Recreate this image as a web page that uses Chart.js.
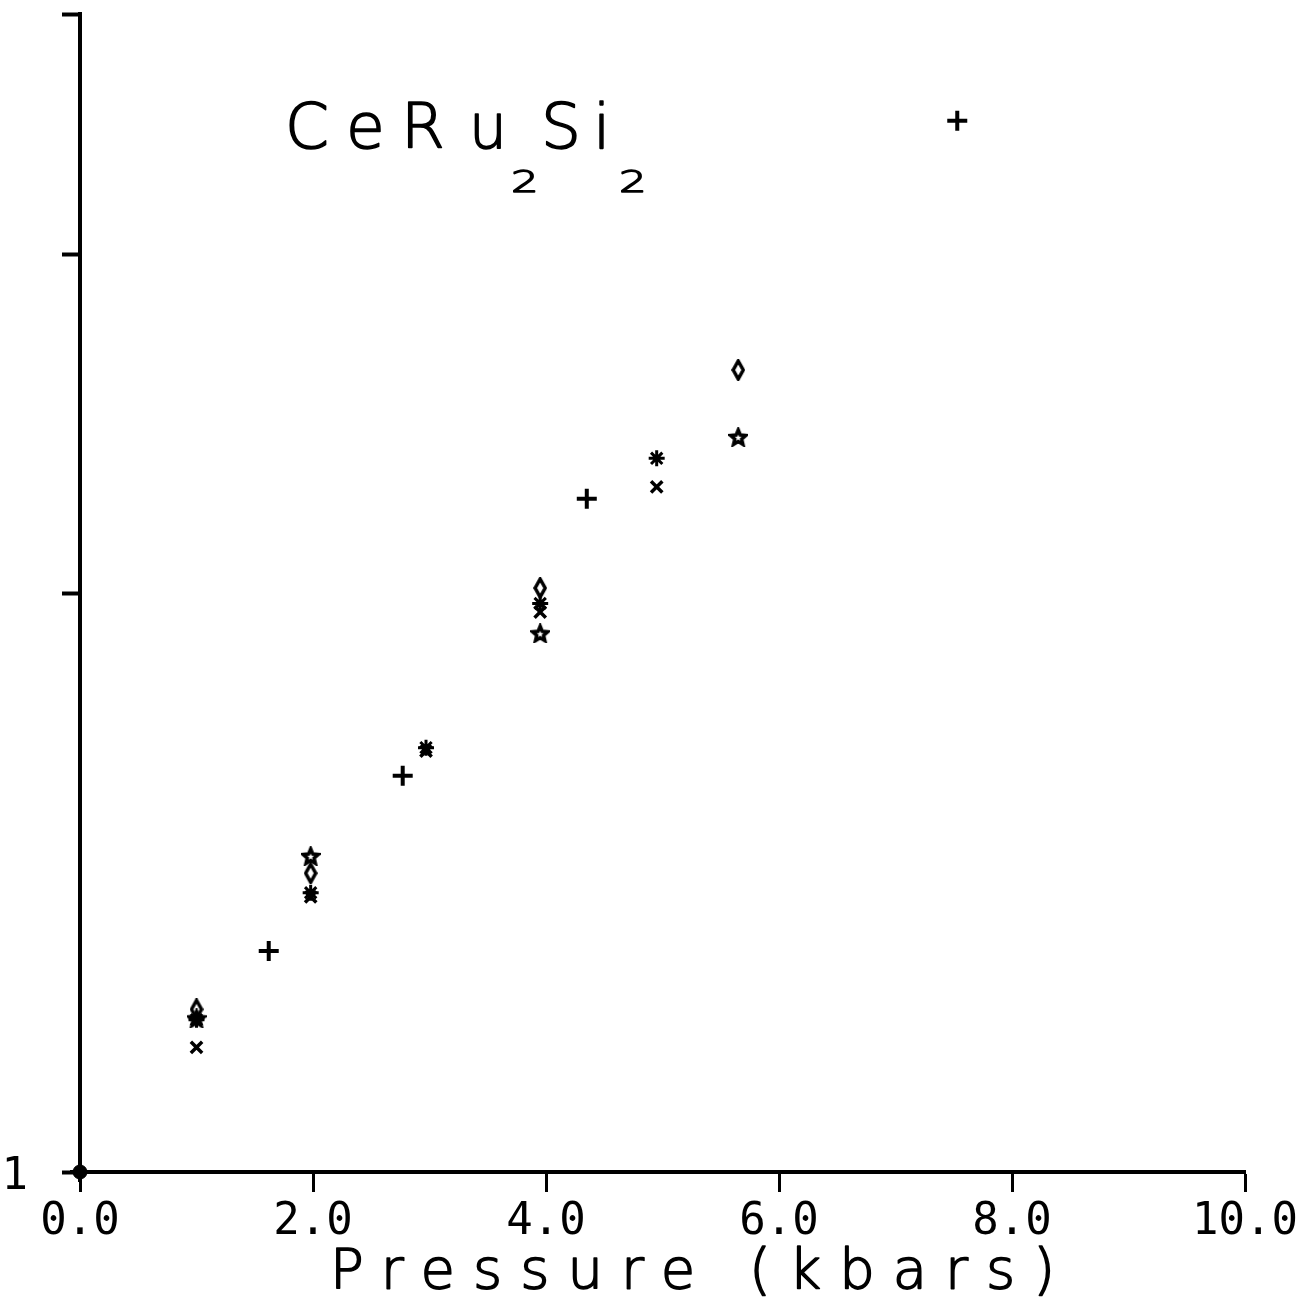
<!DOCTYPE html>
<html>
<head>
<meta charset="utf-8">
<script src="https://cdn.jsdelivr.net/npm/chart.js@4.4.1/dist/chart.umd.min.js"></script>
<style>
  body { margin: 0; background: #fff; }
  #wrap { width: 1302px; height: 1304px; }
</style>
</head>
<body>
<div id="wrap"><canvas id="chart"></canvas></div>
<script>
// Pressure values (kbars) and normalised quantity
const pressPlus = [0.0, 1.62, 2.77, 4.35, 7.53];
const valPlus = [1.0, 1.303, 1.607, 2.239, 3.52];

const pressStar = [1.0, 1.98, 3.95, 5.65];
const valStar = [1.202, 1.46, 1.906, 2.411];

const pressDiamond = [1.0, 1.98, 3.95, 5.65];
const valDiamond = [1.215, 1.43, 2.012, 2.612];

const pressAst = [1.0, 1.98, 2.97, 3.95, 4.95];
const valAst = [1.2, 1.397, 1.662, 1.975, 2.35];

const pressCross = [1.0, 1.98, 2.97, 3.95, 4.95];
const valCross = [1.161, 1.39, 1.655, 1.955, 2.271];

const xTicks = [0, 2, 4, 6, 8, 10];
const yTicks = [1, 2, 3, 4];

function toPoints(xs, ys) {
    return xs.map((x, i) => ({ x: x, y: ys[i] }));
}

// small marker images for shapes chart.js does not have
function makePentagram(size) {
    const c = document.createElement('canvas');
    c.width = size; c.height = size;
    const g = c.getContext('2d');
    const r = size / 2 - 2, cx = size / 2, cy = size / 2 + 1;
    g.beginPath();
    for (let i = 0; i < 10; i++) {
        const rad = i % 2 === 0 ? r : r * 0.45;
        const a = -Math.PI / 2 + i * Math.PI / 5;
        const px = cx + rad * Math.cos(a), py = cy + rad * Math.sin(a);
        if (i === 0) g.moveTo(px, py); else g.lineTo(px, py);
    }
    g.closePath();
    g.lineWidth = 3.5;
    g.strokeStyle = '#000';
    g.stroke();
    return c;
}

function makeDiamond(w, h) {
    const c = document.createElement('canvas');
    c.width = w; c.height = h;
    const g = c.getContext('2d');
    g.beginPath();
    g.moveTo(w / 2, 2);
    g.lineTo(w - 2, h / 2);
    g.lineTo(w / 2, h - 2);
    g.lineTo(2, h / 2);
    g.closePath();
    g.lineWidth = 3.5;
    g.strokeStyle = '#000';
    g.stroke();
    return c;
}

// plotter-style glyph: thin font thickened by a stroke, optionally widened
function penText(ctx, s, x, y, sx) {
    ctx.save();
    ctx.translate(x, y);
    ctx.scale(sx, 1);
    ctx.fillText(s, 0, 0);
    ctx.strokeText(s, 0, 0);
    ctx.restore();
}

const textPlugin = {
    id: 'plotText',
    afterDraw(chart) {
        const ctx = chart.ctx;
        const y = chart.scales.y;
        ctx.save();
        ctx.fillStyle = '#000';
        ctx.strokeStyle = '#000';
        ctx.lineJoin = 'round';

        // the only labelled y tick
        ctx.font = '44px "DejaVu Sans Mono"';
        ctx.textAlign = 'right';
        ctx.textBaseline = 'middle';
        ctx.fillText('1', 28, y.getPixelForValue(1) + 6);

        // axis title
        ctx.lineWidth = 1.6;
        ctx.font = '300 56px "DejaVu Sans"';
        ctx.letterSpacing = '18px';
        ctx.textAlign = 'left';
        ctx.textBaseline = 'alphabetic';
        penText(ctx, 'Pressure (kbars)', 330, 1288, 1);
        ctx.letterSpacing = '0px';

        // compound label, glyph by glyph
        const base = 148;
        ctx.font = '300 63px "DejaVu Sans"';
        penText(ctx, 'C', 285, base, 1.0);
        penText(ctx, 'e', 346, base, 1.0);
        penText(ctx, 'R', 401, base, 1.0);
        penText(ctx, 'u', 469, base, 0.95);
        penText(ctx, 'S', 541, base, 1.0);
        penText(ctx, 'i', 593, base, 1.0);
        ctx.lineWidth = 1.4;
        ctx.font = '300 30px "DejaVu Sans"';
        penText(ctx, '2', 511, base + 44, 1.45);
        penText(ctx, '2', 619, base + 44, 1.45);
        ctx.restore();
    }
};

const pentagram = makePentagram(20);
const diamond = makeDiamond(14, 22);

const common = {
    showLine: false,
    borderColor: '#000',
    backgroundColor: '#000',
    clip: false
};

new Chart(document.getElementById('chart'), {
    type: 'scatter',
    data: {
        datasets: [
            Object.assign({ label: 'plus', data: toPoints(pressPlus, valPlus),
                pointStyle: 'cross', pointRadius: 10, borderWidth: 4 }, common),
            Object.assign({ label: 'star', data: toPoints(pressStar, valStar),
                pointStyle: pentagram, pointRadius: 10 }, common),
            Object.assign({ label: 'diamond', data: toPoints(pressDiamond, valDiamond),
                pointStyle: diamond, pointRadius: 10 }, common),
            Object.assign({ label: 'asterisk', data: toPoints(pressAst, valAst),
                pointStyle: 'star', pointRadius: 8, borderWidth: 3 }, common),
            Object.assign({ label: 'cross', data: toPoints(pressCross, valCross),
                pointStyle: 'crossRot', pointRadius: 8, borderWidth: 3.5 }, common),
            Object.assign({ label: 'origin', data: toPoints([pressPlus[0]], [valPlus[0]]),
                pointStyle: 'circle', pointRadius: 7, borderWidth: 1 }, common)
        ]
    },
    options: {
        responsive: true,
        maintainAspectRatio: false,
        animation: false,
        layout: { padding: { top: 14, right: 56, left: 0, bottom: 0 } },
        plugins: {
            legend: { display: false },
            tooltip: { enabled: false }
        },
        scales: {
            x: {
                type: 'linear',
                min: 0,
                max: 10,
                afterBuildTicks: scale => { scale.ticks = xTicks.map(v => ({ value: v })); },
                afterFit: scale => { scale.height = 132; },
                ticks: {
                    color: '#000',
                    padding: 4,
                    maxRotation: 0,
                    font: { family: '"DejaVu Sans Mono"', size: 44 },
                    callback: v => v.toFixed(1)
                },
                grid: { drawOnChartArea: false, tickLength: 20, tickWidth: 3, tickColor: '#000' },
                border: { color: '#000', width: 4 }
            },
            y: {
                type: 'logarithmic',
                min: 1,
                max: 4,
                afterBuildTicks: scale => { scale.ticks = yTicks.map(v => ({ value: v })); },
                afterFit: scale => { scale.width = 80; },
                ticks: { display: false },
                grid: { drawOnChartArea: false, tickLength: 18, tickWidth: 4, tickColor: '#000' },
                border: { color: '#000', width: 4 }
            }
        }
    },
    plugins: [textPlugin]
});
</script>
</body>
</html>
